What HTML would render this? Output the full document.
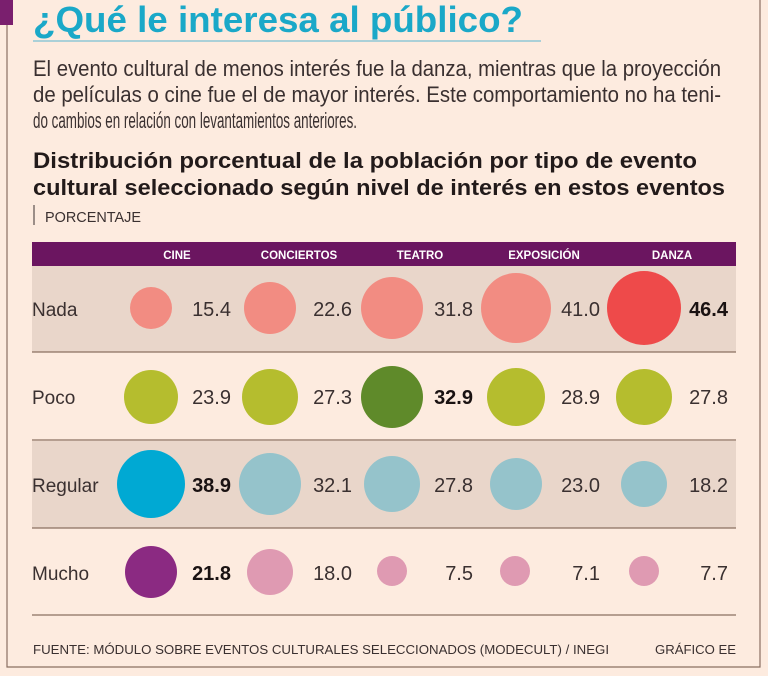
<!DOCTYPE html>
<html><head><meta charset="utf-8"><style>
html,body{margin:0;padding:0;background:#fdebdf;}
svg{display:block}
text{font-family:"Liberation Sans",sans-serif;}
</style></head><body>
<svg width="768" height="676" viewBox="0 0 768 676" xmlns="http://www.w3.org/2000/svg">
<rect width="768" height="676" fill="#fdebdf"/>
<path d="M7 0 V667 H760 V0" fill="none" stroke="#8a6f62" stroke-width="1.2"/>
<rect x="0" y="0" width="13" height="25" fill="#7a1f6e"/>
<text x="33" y="32" font-size="36" font-weight="bold" fill="#1aa8c8" textLength="490" lengthAdjust="spacingAndGlyphs">¿Qué le interesa al público?</text>
<line x1="33" y1="41" x2="541" y2="41" stroke="#8fc8d6" stroke-width="1.5"/>
<g font-size="22" fill="#3a3030">
<text x="33" y="76" textLength="688" lengthAdjust="spacingAndGlyphs">El evento cultural de menos interés fue la danza, mientras que la proyección</text>
<text x="33" y="102" textLength="688" lengthAdjust="spacingAndGlyphs">de películas o cine fue el de mayor interés. Este comportamiento no ha teni-</text>
<text x="33" y="128" textLength="324" lengthAdjust="spacingAndGlyphs">do cambios en relación con levantamientos anteriores.</text>
</g>
<g font-size="22" font-weight="bold" fill="#221a1a">
<text x="33" y="168" textLength="664" lengthAdjust="spacingAndGlyphs">Distribución porcentual de la población por tipo de evento</text>
<text x="33" y="195" textLength="692" lengthAdjust="spacingAndGlyphs">cultural seleccionado según nivel de interés en estos eventos</text>
</g>
<line x1="34" y1="205" x2="34" y2="225" stroke="#3a3030" stroke-width="1"/>
<text x="45" y="222" font-size="15" fill="#3a3030" textLength="96" lengthAdjust="spacingAndGlyphs">PORCENTAJE</text>
<rect x="32" y="242" width="704" height="24" fill="#6b1560"/>
<g font-size="11.5" font-weight="bold" fill="#fff" text-anchor="middle">
<text x="177" y="259">CINE</text><text x="299" y="259">CONCIERTOS</text><text x="420" y="259">TEATRO</text><text x="544" y="259">EXPOSICIÓN</text><text x="672" y="259">DANZA</text>
</g>
<rect x="32" y="266" width="704" height="86" fill="#e9d6ca"/>
<rect x="32" y="441" width="704" height="87" fill="#e9d6ca"/>
<g stroke="#8a6f62" stroke-width="1.3">
<line x1="32" y1="352" x2="736" y2="352"/><line x1="32" y1="440" x2="736" y2="440"/><line x1="32" y1="528" x2="736" y2="528"/><line x1="32" y1="615" x2="736" y2="615"/>
</g>
<g font-size="19" fill="#3a3030">
<text x="32" y="316">Nada</text><text x="32" y="404">Poco</text><text x="32" y="492">Regular</text><text x="32" y="580">Mucho</text>
</g>
<circle cx="151" cy="308" r="21" fill="#f28c82"/>
<circle cx="270" cy="308" r="26" fill="#f28c82"/>
<circle cx="392" cy="308" r="31" fill="#f28c82"/>
<circle cx="516" cy="308" r="35" fill="#f28c82"/>
<circle cx="644" cy="308" r="37" fill="#ee4a4a"/>
<circle cx="151" cy="397" r="27" fill="#b5bd2e"/>
<circle cx="270" cy="397" r="28" fill="#b5bd2e"/>
<circle cx="392" cy="397" r="31" fill="#5f8a2a"/>
<circle cx="516" cy="397" r="29" fill="#b5bd2e"/>
<circle cx="644" cy="397" r="28" fill="#b5bd2e"/>
<circle cx="151" cy="484" r="34" fill="#00a9d3"/>
<circle cx="270" cy="484" r="31" fill="#95c3cb"/>
<circle cx="392" cy="484" r="28" fill="#95c3cb"/>
<circle cx="516" cy="484" r="26" fill="#95c3cb"/>
<circle cx="644" cy="484" r="23" fill="#95c3cb"/>
<circle cx="151" cy="572" r="26" fill="#8b2a82"/>
<circle cx="270" cy="572" r="23" fill="#df9ab2"/>
<circle cx="392" cy="571" r="15" fill="#df9ab2"/>
<circle cx="515" cy="571" r="15" fill="#df9ab2"/>
<circle cx="644" cy="571" r="15" fill="#df9ab2"/>
<g font-size="20" fill="#3a3030" text-anchor="end">
<text x="231" y="316">15.4</text><text x="352" y="316">22.6</text><text x="473" y="316">31.8</text><text x="600" y="316">41.0</text><text x="728" y="316" font-weight="bold" fill="#1a1212">46.4</text>
<text x="231" y="404">23.9</text><text x="352" y="404">27.3</text><text x="473" y="404" font-weight="bold" fill="#1a1212">32.9</text><text x="600" y="404">28.9</text><text x="728" y="404">27.8</text>
<text x="231" y="492" font-weight="bold" fill="#1a1212">38.9</text><text x="352" y="492">32.1</text><text x="473" y="492">27.8</text><text x="600" y="492">23.0</text><text x="728" y="492">18.2</text>
<text x="231" y="580" font-weight="bold" fill="#1a1212">21.8</text><text x="352" y="580">18.0</text><text x="473" y="580">7.5</text><text x="600" y="580">7.1</text><text x="728" y="580">7.7</text>
</g>
<text x="33" y="654" font-size="13" fill="#3a3030" textLength="576" lengthAdjust="spacingAndGlyphs">FUENTE: MÓDULO SOBRE EVENTOS CULTURALES SELECCIONADOS (MODECULT) / INEGI</text>
<text x="736" y="654" font-size="13" fill="#3a3030" text-anchor="end" textLength="81" lengthAdjust="spacingAndGlyphs">GRÁFICO EE</text>
</svg>
</body></html>
